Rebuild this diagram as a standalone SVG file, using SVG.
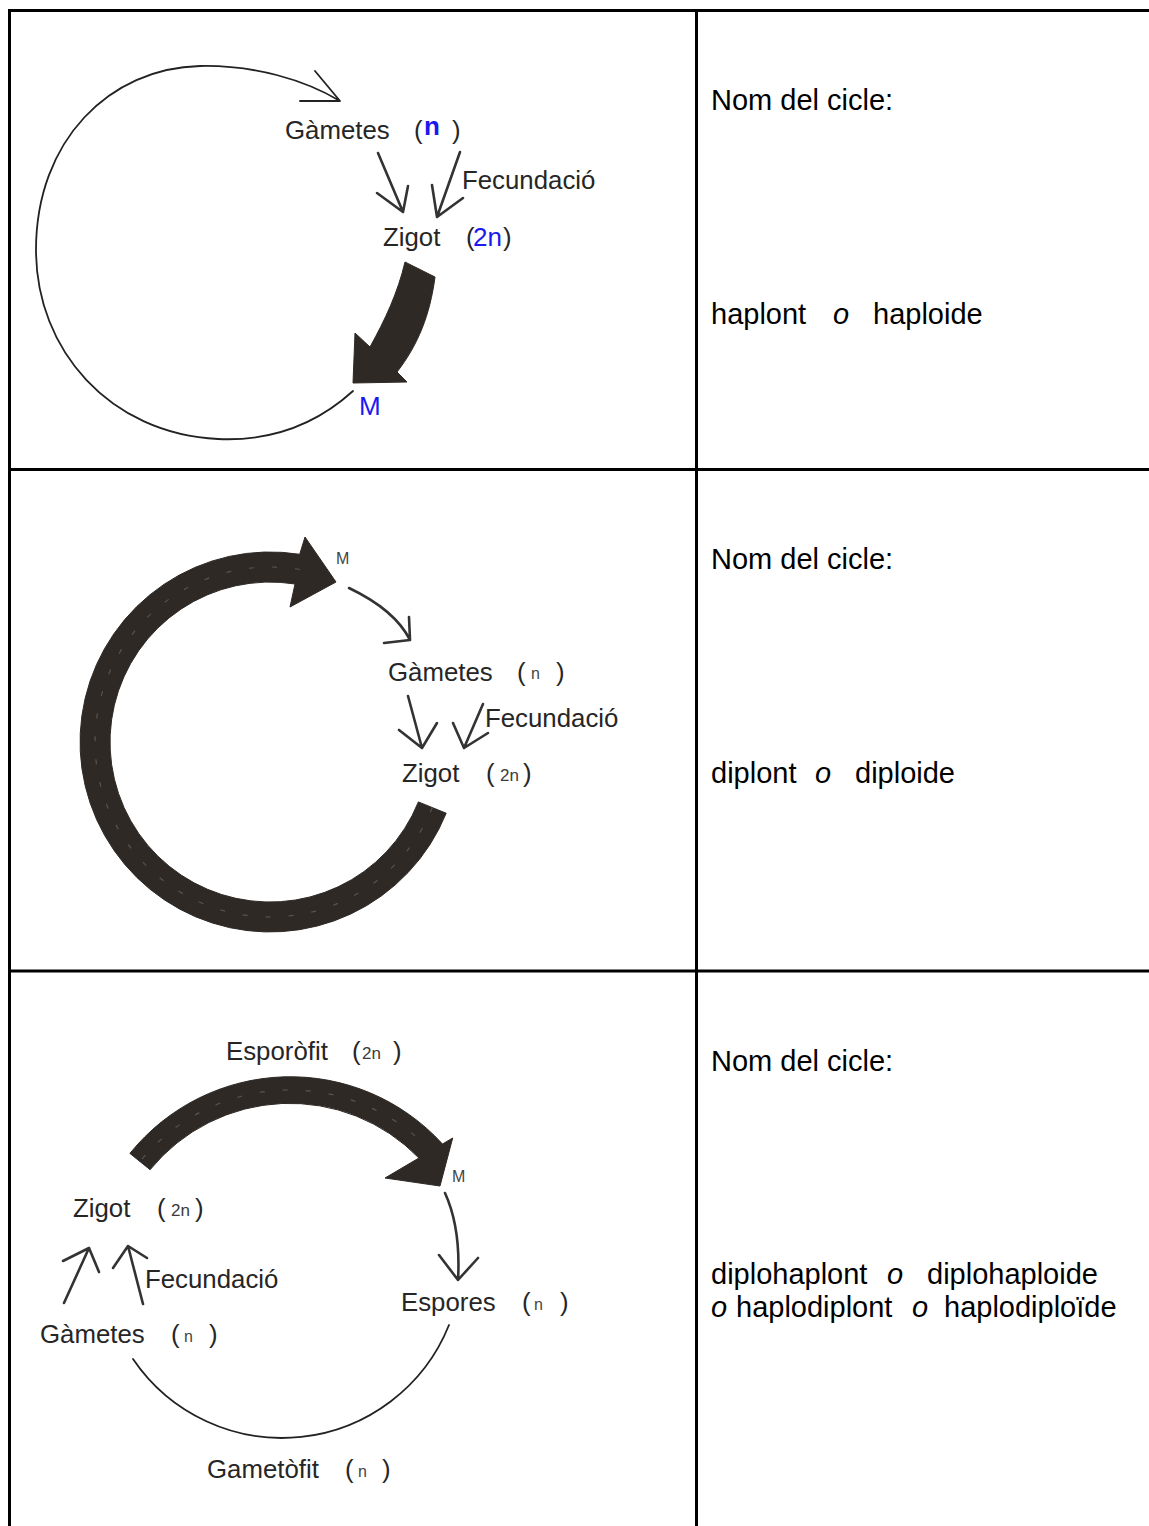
<svg xmlns="http://www.w3.org/2000/svg" width="1149" height="1526" viewBox="0 0 1149 1526">
<style>
.lbl{font-family:"Liberation Sans",Arial,sans-serif;font-size:25.8px;fill:#262626}
.sm{font-family:"Liberation Sans",Arial,sans-serif;font-size:16px;fill:#444}
.sn{font-family:"Liberation Sans",Arial,sans-serif;font-size:17px;fill:#3a3a3a}
.blue{font-family:"Liberation Sans",Arial,sans-serif;font-size:26px;fill:#1a1af0}
.rt{font-family:"Liberation Sans",Arial,sans-serif;font-size:29px;fill:#000}
.it{font-style:italic}
.grid{stroke:#000;stroke-width:3;fill:none}
.thin{stroke:#222;stroke-width:1.8;fill:none;stroke-linecap:round;stroke-linejoin:round}
.hand{stroke:#333;stroke-width:2.6;fill:none;stroke-linecap:round;stroke-linejoin:round}
.thick{fill:#2e2925;stroke:#2e2925;stroke-width:1;stroke-linejoin:round}
.tex{stroke:#fff;stroke-opacity:0.2;stroke-width:1.2;fill:none;stroke-dasharray:5 18}
</style>

<g id="table">
<path class="grid" d="M9.5,1526 V10.5 H1149 M696.5,10.5 V1526 M9.5,469.5 H1149 M9.5,971 H1149"/>
</g>

<g id="connectors">
<!-- panel 1 -->
<path class="thin" d="M353,391 C310,430 262,441 218,439 C110,434 36,350 36,250 C36,140 110,68 200,66 C255,65 305,80 340,101 M315,71 L340,101 L300,101"/>
<path class="hand" d="M378,153 L403,212 M377,193 L403,212 L408,186"/>
<path class="hand" d="M460,152 L437,217 M432,185 L437,217 L463,198"/>
<path class="thick" d="M405,262 L435,277 C430,315 418,345 397,372 L407,382 L353,383 L355,333 L370,347 C385,320 398,292 405,262 Z"/>
<!-- panel 2 -->
<path class="thick" d="M418.4,801.9 L446.2,813.2 A190,190 0 1 1 299.7,554.3 L305,537 L336,582 L290,607 L295,584 A160,160 0 1 0 418.4,801.9 Z"/>
<path class="tex" d="M432.3,807.6 A175,175 0 1 1 306.4,570.8"/>
<path class="hand" d="M349,588 Q395,610 410,640 M409,617 L410,640 L384,643"/>
<path class="hand" d="M408,696 L422,748 M399,730 L422,748 L437,723"/>
<path class="hand" d="M483,704 L464,748 M453,723 L464,748 L488,733"/>
<!-- panel 3 -->
<path class="thick" d="M150.1,1169.7 L129.9,1153.4 A206,206 0 0 1 442.5,1144 L452.7,1138 L440,1186 L385,1178 L418.9,1158 A180,180 0 0 0 150.1,1169.7 Z"/>
<path class="tex" d="M142.2,1158.9 A193,193 0 0 1 424.1,1144.2"/>
<path class="hand" d="M445,1193 C455,1215 460,1245 458,1280 M439,1255 L458,1280 L478,1258"/>
<path class="hand" d="M64,1303 L89,1248 M63,1261 L89,1248 L99,1272"/>
<path class="hand" d="M143,1304 L128,1246 M113,1268 L128,1246 L147,1258"/>
<path class="thin" d="M133,1359 A180,180 0 0 0 449,1325"/>
</g>

<g id="p1-gametes"><text class="lbl" x="285" y="139">Gàmetes</text><text class="lbl" x="414" y="139">(</text><text class="blue" x="424" y="135" font-weight="bold" font-size="25">n</text><text class="lbl" x="452" y="139">)</text></g>
<g id="p1-fecundacio"><text class="lbl" x="462" y="189">Fecundació</text></g>
<g id="p1-zigot"><text class="lbl" x="383" y="246">Zigot</text><text class="lbl" x="466" y="246">(</text><text class="blue" x="473" y="246">2n</text><text class="lbl" x="503" y="246">)</text></g>
<g id="p1-m"><text class="blue" x="359" y="415" font-size="25">M</text></g>

<g id="p2-m"><text class="sm" x="336" y="564">M</text></g>
<g id="p2-gametes"><text class="lbl" x="388" y="681">Gàmetes</text><text class="lbl" x="517" y="681">(</text><text class="sm" x="531" y="679" font-size="15">n</text><text class="lbl" x="556" y="681">)</text></g>
<g id="p2-fecundacio"><text class="lbl" x="485" y="727">Fecundació</text></g>
<g id="p2-zigot"><text class="lbl" x="402" y="782">Zigot</text><text class="lbl" x="486" y="782">(</text><text class="sn" x="500" y="781">2n</text><text class="lbl" x="523" y="782">)</text></g>

<g id="p3-esporofit"><text class="lbl" x="226" y="1060">Esporòfit</text><text class="lbl" x="352" y="1060">(</text><text class="sn" x="362" y="1059">2n</text><text class="lbl" x="393" y="1060">)</text></g>
<g id="p3-m"><text class="sm" x="452" y="1182">M</text></g>
<g id="p3-zigot"><text class="lbl" x="73" y="1217">Zigot</text><text class="lbl" x="157" y="1217">(</text><text class="sn" x="171" y="1216">2n</text><text class="lbl" x="195" y="1217">)</text></g>
<g id="p3-fecundacio"><text class="lbl" x="145" y="1288">Fecundació</text></g>
<g id="p3-gametes"><text class="lbl" x="40" y="1343">Gàmetes</text><text class="lbl" x="171" y="1343">(</text><text class="sm" x="184" y="1342" font-size="15">n</text><text class="lbl" x="209" y="1343">)</text></g>
<g id="p3-espores"><text class="lbl" x="401" y="1311">Espores</text><text class="lbl" x="522" y="1311">(</text><text class="sm" x="534" y="1310" font-size="15">n</text><text class="lbl" x="560" y="1311">)</text></g>
<g id="p3-gametofit"><text class="lbl" x="207" y="1478">Gametòfit</text><text class="lbl" x="345" y="1478">(</text><text class="sm" x="358" y="1477" font-size="15">n</text><text class="lbl" x="382" y="1478">)</text></g>

<g id="r1"><text class="rt" x="711" y="110">Nom del cicle:</text><text class="rt" x="711" y="324">haplont</text><text class="rt it" x="833" y="324">o</text><text class="rt" x="873" y="324">haploide</text></g>
<g id="r2"><text class="rt" x="711" y="569">Nom del cicle:</text><text class="rt" x="711" y="783">diplont</text><text class="rt it" x="815" y="783">o</text><text class="rt" x="855" y="783">diploide</text></g>
<g id="r3"><text class="rt" x="711" y="1071">Nom del cicle:</text><text class="rt" x="711" y="1284">diplohaplont</text><text class="rt it" x="887" y="1284">o</text><text class="rt" x="927" y="1284">diplohaploide</text><text class="rt it" x="711" y="1317">o</text><text class="rt" x="736" y="1317">haplodiplont</text><text class="rt it" x="912" y="1317">o</text><text class="rt" x="944" y="1317">haplodiploïde</text></g>
</svg>
